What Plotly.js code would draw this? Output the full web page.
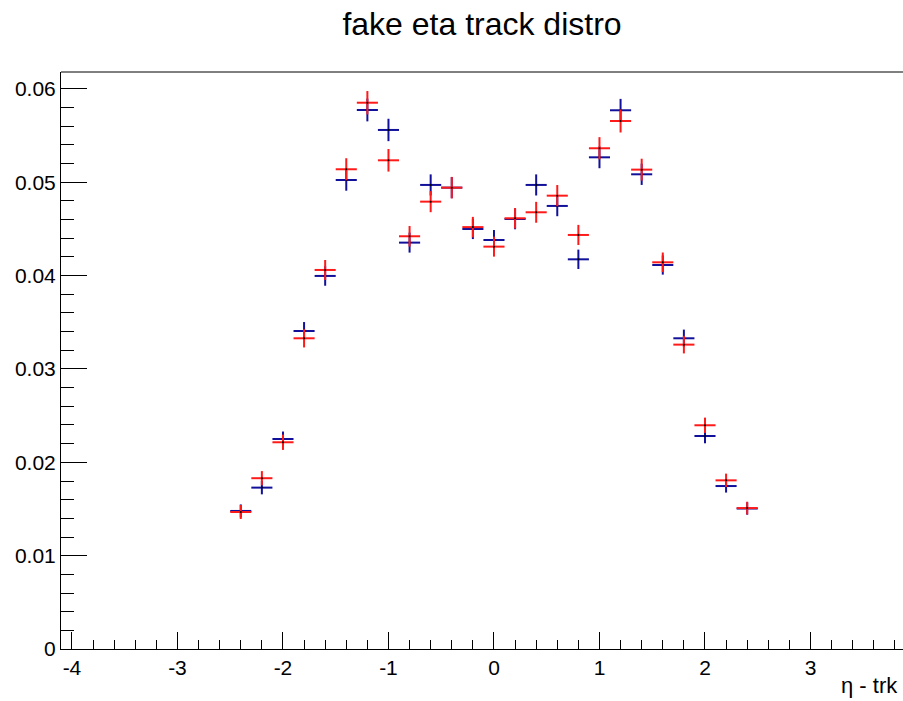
<!DOCTYPE html>
<html>
<head>
<meta charset="utf-8">
<script src="https://cdn.plot.ly/plotly-3.0.1.min.js"></script>
<style>html,body{margin:0;padding:0;background:#fff;}#chart{width:903px;height:701px;}</style>
</head>
<body>
<div id="chart"></div>
<script>
const etaBins = [-2.4, -2.2, -2.0, -1.8, -1.6, -1.4, -1.2, -1.0, -0.8, -0.6, -0.4, -0.2, 0.0,
                 0.2, 0.4, 0.6, 0.8, 1.0, 1.2, 1.4, 1.6, 1.8, 2.0, 2.2, 2.4];
const binHalfWidth = [0.1, 0.1, 0.1, 0.1, 0.1, 0.1, 0.1, 0.1, 0.1, 0.1, 0.1, 0.1, 0.1,
                      0.1, 0.1, 0.1, 0.1, 0.1, 0.1, 0.1, 0.1, 0.1, 0.1, 0.1, 0.1];
const blueValues = [0.01479, 0.01729, 0.02250, 0.03407, 0.03997, 0.05025, 0.05775, 0.05561, 0.04354,
                    0.04972, 0.04943, 0.04500, 0.04382, 0.04607, 0.04972, 0.04747, 0.04175, 0.05268,
                    0.05772, 0.05086, 0.04114, 0.03329, 0.02282, 0.01746, 0.01505];
const blueErrors = [0.00070, 0.00072, 0.00080, 0.00096, 0.00105, 0.00115, 0.00122, 0.00120, 0.00107,
                    0.00113, 0.00113, 0.00108, 0.00107, 0.00110, 0.00113, 0.00110, 0.00104, 0.00117,
                    0.00122, 0.00114, 0.00103, 0.00093, 0.00078, 0.00070, 0.00066];
const redValues = [0.01468, 0.01830, 0.02215, 0.03329, 0.04061, 0.05140, 0.05853, 0.05236, 0.04422,
                   0.04793, 0.04943, 0.04520, 0.04311, 0.04615, 0.04679, 0.04857, 0.04436, 0.05365,
                   0.05657, 0.05136, 0.04143, 0.03261, 0.02397, 0.01807, 0.01510];
const redErrors = [0.00075, 0.00076, 0.00082, 0.00098, 0.00107, 0.00118, 0.00125, 0.00121, 0.00110,
                   0.00113, 0.00115, 0.00110, 0.00107, 0.00110, 0.00112, 0.00114, 0.00108, 0.00119,
                   0.00123, 0.00117, 0.00105, 0.00094, 0.00082, 0.00072, 0.00068];
const xTickValues = [-4, -3, -2, -1, 0, 1, 2, 3];
const xTickLabels = ['-4', '-3', '-2', '-1', '0', '1', '2', '3'];

const blueColor = '#10109a';
const redColor = '#ff1a1a';

function histTrace(y, err, color) {
  return {
    type: 'scatter', mode: 'markers', x: etaBins, y: y,
    marker: {size: 2, color: '#000'},
    error_x: {type: 'data', array: binHalfWidth, color: color, thickness: 2, width: 0},
    error_y: {type: 'data', array: err, color: color, thickness: 2, width: 0},
    hoverinfo: 'x+y', showlegend: false
  };
}

const data = [histTrace(blueValues, blueErrors, blueColor), histTrace(redValues, redErrors, redColor)];

const fontFam = '"Liberation Sans", Arial, Helvetica, sans-serif';
const layout = {
  width: 903, height: 701,
  margin: {l: 61, r: 0, t: 72, b: 52},
  paper_bgcolor: '#fff', plot_bgcolor: '#fff',
  font: {family: fontFam, color: '#000', size: 21},
  title: {text: 'fake eta track distro', x: 0.5, xref: 'paper', xanchor: 'center',
          y: 1 - 24 / 701, yref: 'container', yanchor: 'middle',
          font: {family: fontFam, size: 32, color: '#000'}},
  xaxis: {
    range: [-4.104, 3.877], tickmode: 'array', tickvals: xTickValues, ticktext: xTickLabels,
    ticks: 'inside', ticklen: 17, tickwidth: 1,
    tickcolor: '#000', showline: true, linecolor: '#000', linewidth: 1,
    showgrid: false, zeroline: false,
    minor: {dtick: 0.2, tick0: 0, ticks: 'inside', ticklen: 9, tickwidth: 1, tickcolor: '#000', showgrid: false},
    tickfont: {family: fontFam, size: 21, color: '#000'}
  },
  yaxis: {
    range: [0, 0.06182], tick0: 0, dtick: 0.01, ticks: 'inside', ticklen: 26, tickwidth: 1,
    tickcolor: '#000', showline: true, linecolor: '#000', linewidth: 1,
    showgrid: false, zeroline: false,
    minor: {dtick: 0.002, tick0: 0, ticks: 'inside', ticklen: 13, tickwidth: 1, tickcolor: '#000', showgrid: false},
    tickfont: {family: fontFam, size: 21, color: '#000'}
  },
  shapes: [{type: 'line', xref: 'paper', yref: 'paper', x0: 0, x1: 1, y0: 1, y1: 1,
            line: {color: '#000', width: 1}}],
  annotations: [{text: 'η - trk', xref: 'paper', yref: 'paper', x: 1, y: (649 - 685) / 577,
                 xanchor: 'right', yanchor: 'middle', xshift: -3, showarrow: false,
                 font: {family: fontFam, size: 22, color: '#000'}}]
};

Plotly.newPlot('chart', data, layout, {displayModeBar: false, responsive: false});
</script>
</body>
</html>
